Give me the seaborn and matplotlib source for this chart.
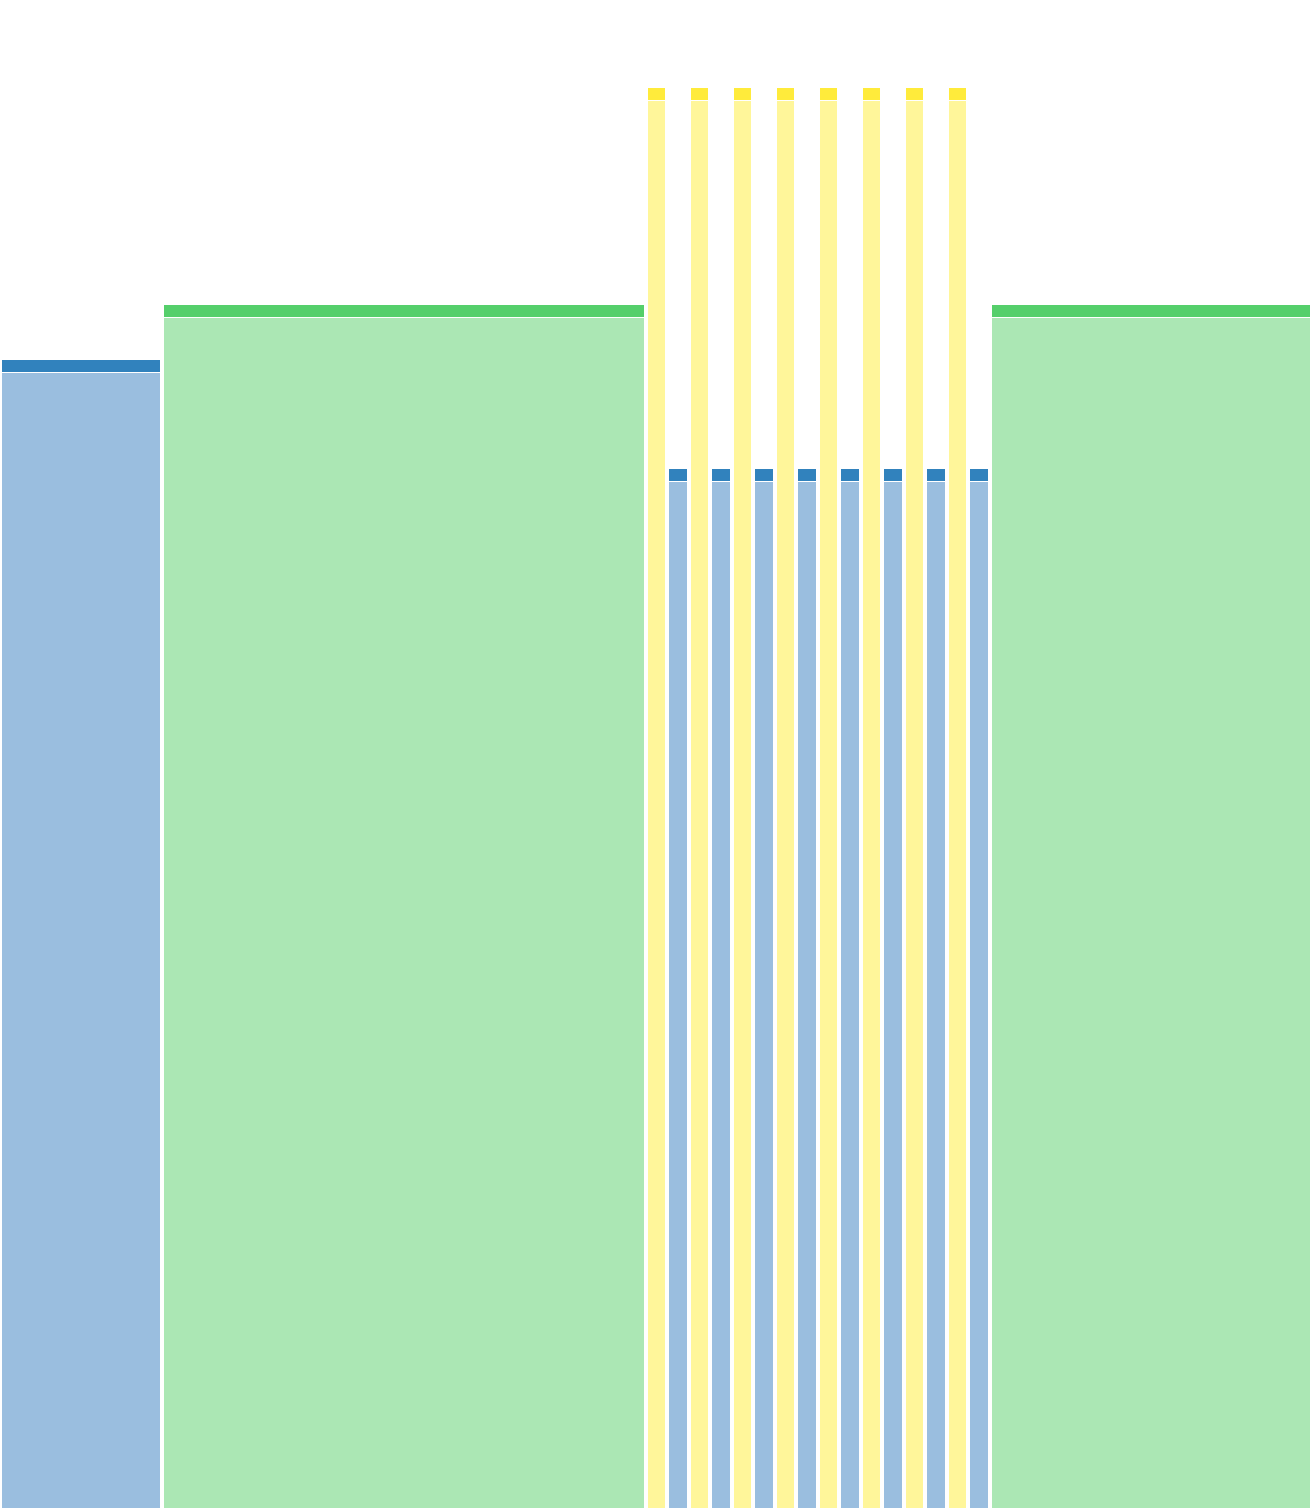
import numpy as np
import matplotlib
matplotlib.use("Agg")
import matplotlib.pyplot as plt
import seaborn as sns

# data: one cell per column, width and value
groups = ["blue", "green",
          "yellow", "blue", "yellow", "blue", "yellow", "blue", "yellow", "blue",
          "yellow", "blue", "yellow", "blue", "yellow", "blue", "yellow", "blue",
          "green"]
widths = [162, 483.5,
          21.5, 21.5, 21.5, 21.5, 21.5, 21.5, 21.5, 21.5,
          21.5, 21.5, 21.5, 21.5, 21.5, 21.5, 21.5, 21.5,
          322]
values = [1148, 1203,
          1420, 1039, 1420, 1039, 1420, 1039, 1420, 1039,
          1420, 1039, 1420, 1039, 1420, 1039, 1420, 1039,
          1203]

light = {"blue": "#9abedf", "green": "#abe7b4", "yellow": "#fff69a"}
dark = {"blue": "#3182bd", "green": "#55cf6b", "yellow": "#ffeb3b"}

sns.set_theme(style="white")

fig = plt.figure(figsize=(13.12, 15.08), dpi=100)
ax = fig.add_axes([0, 0, 1, 1])

gap = 2
cap = 11.5
lefts = np.concatenate([[0], np.cumsum(widths)[:-1]])

for g, left, w, v in zip(groups, lefts, widths, values):
    # body
    ax.bar(left + gap, v - cap - 1.5, width=w - 2 * gap, align="edge",
           color=light[g], linewidth=0)
    # top cap
    ax.bar(left + gap, cap, bottom=v - cap, width=w - 2 * gap, align="edge",
           color=dark[g], linewidth=0)

ax.set_xlim(0, 1312)
ax.set_ylim(0, 1508)
ax.axis("off")

fig.savefig("out.png", dpi=100, facecolor="white")
